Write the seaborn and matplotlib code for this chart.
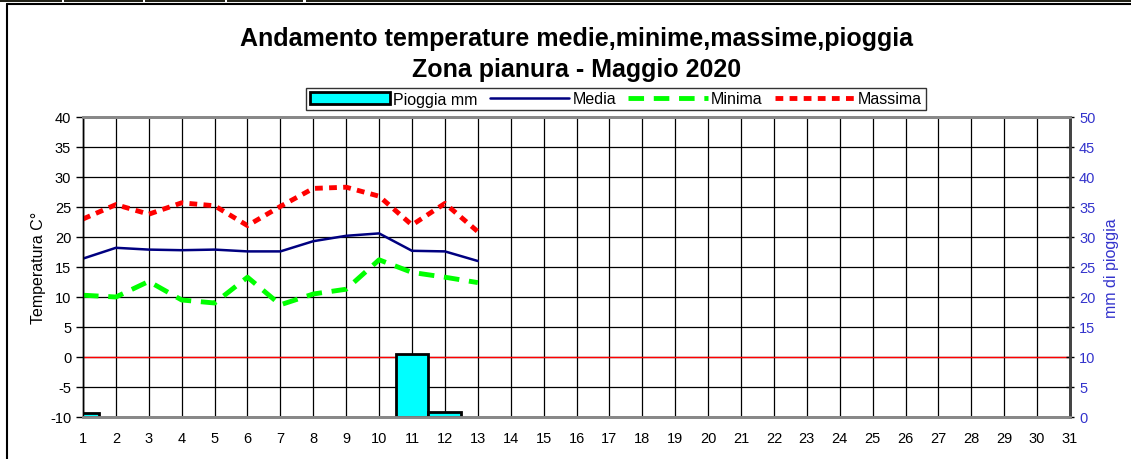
import matplotlib
matplotlib.use("Agg")
import matplotlib.pyplot as plt
from matplotlib.patches import Patch, Rectangle
from matplotlib.lines import Line2D
import seaborn as sns
import pandas as pd

# ---- data ----
days = list(range(1, 14))
media = [16.4, 18.2, 17.9, 17.8, 17.9, 17.6, 17.6, 19.3, 20.2, 20.6, 17.7, 17.6, 16.0]
minima = [10.3, 10.0, 12.6, 9.5, 9.0, 13.3, 8.7, 10.5, 11.3, 16.2, 14.1, 13.3, 12.4]
massima = [23.0, 25.4, 23.8, 25.7, 25.2, 21.9, 25.1, 28.1, 28.3, 26.8, 22.0, 25.6, 20.9]
pioggia = [0.6, 0, 0, 0, 0, 0, 0, 0, 0, 0, 10.5, 0.9, 0]
x_ticks = list(range(1, 32))
temp_ticks = list(range(-10, 41, 5))
rain_ticks = list(range(0, 51, 5))

title = "Andamento temperature medie,minime,massime,pioggia\nZona pianura - Maggio 2020"

sns.set_style("white")
plt.rcParams['font.family'] = ['Liberation Sans', 'DejaVu Sans']
plt.rcParams['axes.unicode_minus'] = False
plt.rcParams['text.color'] = 'black'
plt.rcParams['axes.labelcolor'] = 'black'
plt.rcParams['xtick.color'] = 'black'
plt.rcParams['ytick.color'] = 'black'

fig = plt.figure(figsize=(11.31, 4.60), dpi=100)
W, H = 1131, 460
ax = fig.add_axes([83 / W, (H - 418) / H, 987 / W, 300 / H])

df = pd.DataFrame({"day": days, "media": media, "minima": minima,
                   "massima": massima, "pioggia": pioggia})

# grid
ax.set_xlim(1, 31)
ax.set_ylim(-10, 40)
ax.set_xticks(x_ticks)
ax.set_yticks(temp_ticks)
ax.grid(True, color="black", lw=0.9)
ax.set_axisbelow(True)
ax.axhline(0, color="#ff0000", lw=1.0, zorder=1.5)

# lines
sns.lineplot(data=df, x="day", y="media", ax=ax, color="#000080", lw=1.8, zorder=3)
sns.lineplot(data=df, x="day", y="minima", ax=ax, color="#00ff00", lw=3.5, zorder=3)
ax.lines[-1].set_dashes((3.2, 2.0))
ax.lines[-1].set_dash_capstyle("butt")
sns.lineplot(data=df, x="day", y="massima", ax=ax, color="#ff0000", lw=3.5, zorder=3)
ax.lines[-1].set_dashes((1.6, 1.3))
ax.lines[-1].set_dash_capstyle("butt")

ax.set_xlabel("")
ax.set_ylabel("Temperatura C°", fontsize=11.5, labelpad=3, color="black")
ax.tick_params(axis="y", labelsize=10.5, length=5, width=1, direction="out", left=True,
               color="black", labelcolor="black")
ax.tick_params(axis="x", labelsize=10.5, length=0, pad=10, labelcolor="black")

# rain bars
ax2 = ax.twinx()
rain_df = df[df["pioggia"] > 0]
sns.barplot(data=rain_df, x="day", y="pioggia", ax=ax2, native_scale=True, width=1,
            color="#00ffff", saturation=1, edgecolor="black", linewidth=2,
            errorbar=None, zorder=2)
ax2.set_xlim(1, 31)
ax2.set_ylim(0, 50)
ax2.set_yticks(rain_ticks)
ax2.set_xlabel("")
ax2.set_ylabel("mm di pioggia", fontsize=11.5, color="#3333cc", labelpad=6)
ax2.tick_params(axis="y", labelsize=10.5, labelcolor="#3333cc", length=6, width=1,
                direction="inout", right=True, color="black")
ax2.set_xticks(x_ticks)

for a in (ax, ax2):
    a.spines["top"].set_color("#888888")
    a.spines["top"].set_linewidth(2)
    a.spines["bottom"].set_color("#888888")
    a.spines["bottom"].set_linewidth(2)
    a.spines["left"].set_color("black")
    a.spines["left"].set_linewidth(1)
    a.spines["right"].set_color("#444444")
    a.spines["right"].set_linewidth(2)

# title
fig.text(577 / W, 1 - 54.5 / H, title, ha="center", va="center", fontsize=18,
         fontweight="bold", linespacing=1.32, color="black")

# legend
handles = [Patch(facecolor="#00ffff", edgecolor="black", lw=2),
           Line2D([], [], color="#000080", lw=1.8),
           Line2D([], [], color="#00ff00", lw=3.5, dashes=(3.2, 2.0), dash_capstyle="butt"),
           Line2D([], [], color="#ff0000", lw=3.5, dashes=(1.6, 1.3), dash_capstyle="butt")]
labels = ["Pioggia mm", "Media", "Minima", "Massima"]
leg = fig.legend(handles, labels, loc="center", bbox_to_anchor=(616 / W, 1 - 100 / H),
                 ncol=4, fontsize=11.5, frameon=True, fancybox=False, edgecolor="black",
                 handlelength=5.0, handleheight=0.7, handletextpad=0.2, columnspacing=0.75,
                 borderpad=0.25, borderaxespad=0)
leg.get_frame().set_linewidth(1)
for t in leg.get_texts():
    t.set_color("black")

# outer frame
fig.add_artist(Line2D([7 / W, 7 / W], [0, 1 - 5 / H], color="black", lw=1.5,
                      transform=fig.transFigure))
fig.add_artist(Line2D([7 / W, 1], [1 - 5 / H, 1 - 5 / H], color="black", lw=1.5,
                      transform=fig.transFigure))
for x0, x1 in [(0, 62), (64, 143), (145, 225), (227, 303), (306, 1131)]:
    fig.add_artist(Rectangle((x0 / W, 1 - 2.5 / H), (x1 - x0) / W, 2.5 / H,
                             facecolor="#222218", edgecolor="none", transform=fig.transFigure))

fig.savefig("out.png", dpi=100)
